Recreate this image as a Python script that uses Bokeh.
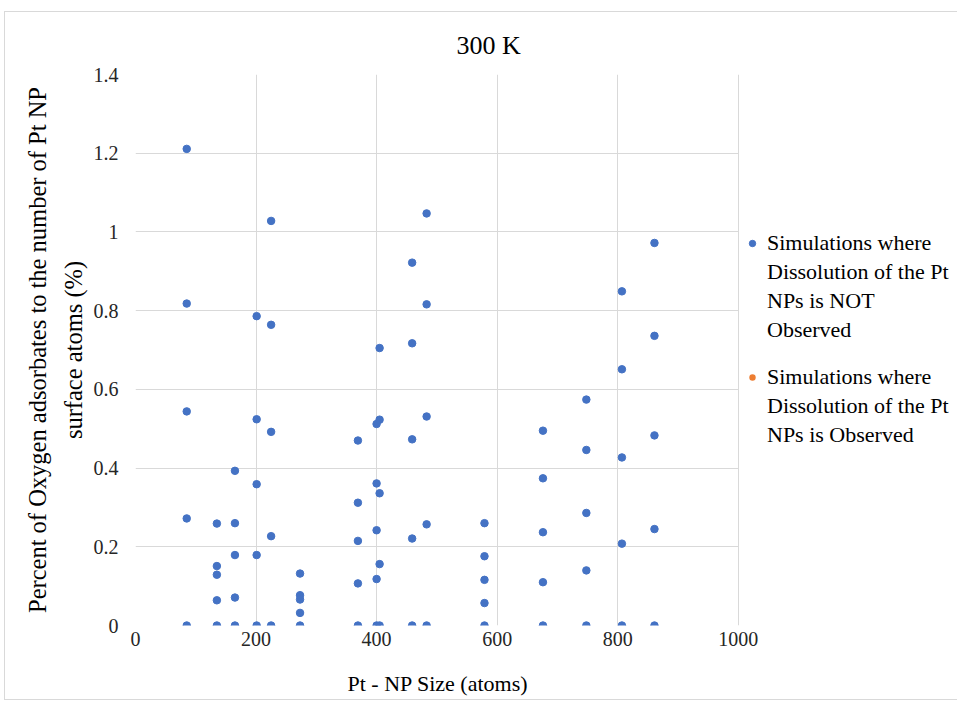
from bokeh.plotting import figure
from bokeh.models import (ColumnDataSource, Legend, LegendItem, FixedTicker, Range1d, Title,
                          CDSView, IndexFilter)
from bokeh.embed import file_html
from bokeh.resources import INLINE

# ---- data ----
sizes = [85, 135, 165, 201, 225, 273, 369, 400, 405, 459, 483, 579, 676, 748, 807, 861]
pct_not_observed = [
    [1.211, 0.818, 0.544, 0.272, 0.0],
    [0.259, 0.151, 0.129, 0.064, 0.0],
    [0.393, 0.260, 0.179, 0.071, 0.0],
    [0.786, 0.524, 0.359, 0.179, 0.0],
    [1.028, 0.764, 0.492, 0.227, 0.0],
    [0.132, 0.077, 0.066, 0.032, 0.0],
    [0.470, 0.312, 0.215, 0.107, 0.0],
    [0.512, 0.361, 0.242, 0.118, 0.0],
    [0.705, 0.523, 0.336, 0.156, 0.0],
    [0.922, 0.717, 0.473, 0.221, 0.0],
    [1.047, 0.816, 0.531, 0.257, 0.0],
    [0.260, 0.176, 0.116, 0.057, 0.0],
    [0.495, 0.374, 0.237, 0.110, 0.0],
    [0.574, 0.446, 0.286, 0.140, 0.0],
    [0.849, 0.651, 0.427, 0.208, 0.0],
    [0.972, 0.736, 0.483, 0.245, 0.0],
]
# no simulation at 300 K showed dissolution (series is empty)
x_ticks = [0, 200, 400, 600, 800, 1000]
y_ticks = [0, 0.2, 0.4, 0.6, 0.8, 1, 1.2, 1.4]
y_tick_labels = ["0", "0.2", "0.4", "0.6", "0.8", "1", "1.2", "1.4"]
legend_not_obs = ["Simulations where", "Dissolution of the Pt", "NPs is NOT", "Observed"]
legend_obs = ["Simulations where", "Dissolution of the Pt", "NPs is Observed"]

nx, ny = [], []
for s, vals in zip(sizes, pct_not_observed):
    for v in vals:
        nx.append(s)
        ny.append(v)

FONT = "Liberation Serif"
BLUE = "#4472C4"
ORANGE = "#ED7D31"
GRID = "#d9d9d9"
TXT = "#262626"

# outer chart box at (4, 11) on the page, 1px light border -> canvas origin (5, 12)
MX, MY = 4, 11
CX, CY = MX + 1, MY + 1
W, H = 957 - MX, 700 - MY
CW, CH = W - 1, H - 2
# frame extends to the right so the legend (drawn inside the frame area) is not clipped;
# grid and axis are bounded to the 0..1000 data window
X_MAX = 1000
FRAME_L, FRAME_R_AXIS, FRAME_R = 135 - CX, 737 - CX, 955 - CX
FRAME_T, FRAME_B = 74 - CY, 623 - CY
x_end = X_MAX * (FRAME_R - FRAME_L) / (FRAME_R_AXIS - FRAME_L)

p = figure(width=W, height=H, output_backend="svg", toolbar_location=None,
           x_range=Range1d(0, x_end), y_range=Range1d(0, 1.4),
           min_border_left=FRAME_L, min_border_right=CW - FRAME_R,
           min_border_top=FRAME_T, min_border_bottom=CH - FRAME_B,
           margin=(MY, 0, 0, MX),
           styles={"border-left": "1px solid #d9d9d9", "border-top": "1px solid #d9d9d9",
                   "border-bottom": "1px solid #d9d9d9"})
t = Title(text="300 K", align="left", text_font=FONT, text_font_size="26px",
          text_font_style="normal", text_color="#000000", offset=321, standoff=30)
p.add_layout(t, "above")
xt = Title(text="\nPt - NP Size (atoms)", align="left", vertical_align="top", text_font=FONT,
           text_font_size="22px", text_font_style="normal", text_color="#000000",
           text_line_height=0.88, offset=212, standoff=1)
p.add_layout(xt, "below")

s1 = ColumnDataSource(dict(x=nx, y=ny))
# legend proxy for the empty "dissolution observed" series: zero-size, hidden under a blue point
r2 = p.scatter("x", "y", source=s1, size=0, fill_color=ORANGE, line_alpha=0,
               view=CDSView(filter=IndexFilter(indices=[0])))
r1 = p.scatter("x", "y", source=s1, size=7.5, color=BLUE)
r_blank = p.scatter("x", "y", source=s1, size=0, fill_alpha=0, line_alpha=0,
                    view=CDSView(filter=IndexFilter(indices=[0])))

p.xaxis.ticker = FixedTicker(ticks=x_ticks)
p.yaxis.ticker = FixedTicker(ticks=y_ticks)
p.xaxis.bounds = (0, X_MAX)
p.yaxis.major_label_overrides = {t_: l for t_, l in zip(y_ticks, y_tick_labels)}
for ax in (p.xaxis[0], p.yaxis[0]):
    ax.axis_line_color = None
    ax.major_tick_line_color = None
    ax.minor_tick_line_color = None
    ax.major_label_text_font = FONT
    ax.major_label_text_font_size = "20px"
    ax.major_label_text_color = TXT
    ax.axis_label_text_font = FONT
    ax.axis_label_text_font_style = "normal"
    ax.axis_label_text_color = "#000000"
p.yaxis.major_label_standoff = 11
p.xaxis.major_label_standoff = 0
p.yaxis.axis_label = "Percent of Oxygen adsorbates to the number of Pt NP\nsurface atoms (%)"
p.yaxis.axis_label_text_font_size = "24.5px"
p.yaxis.axis_label_text_line_height = 1.3
p.yaxis.axis_label_standoff = 4

p.xgrid.grid_line_color = GRID
p.ygrid.grid_line_color = GRID
p.ygrid.cross_bounds = (0, X_MAX)
p.xgrid.bounds = (0, 1.4)
p.outline_line_color = None


# legends: one item per text line, continuation lines carry an invisible glyph
def make_legend(lines, renderer, loc):
    items = [LegendItem(label=lines[0], renderers=[renderer])]
    items += [LegendItem(label=l, renderers=[r_blank]) for l in lines[1:]]
    lg = Legend(items=items, location=loc)
    lg.label_text_font = FONT
    lg.label_text_font_size = "22px"
    lg.label_text_color = "#000000"
    lg.border_line_alpha = 0
    lg.background_fill_alpha = 0
    lg.glyph_width = 16
    lg.glyph_height = 20
    lg.label_height = 20
    lg.label_standoff = 7
    lg.spacing = 3
    lg.padding = 0
    lg.margin = 0
    return lg


p.add_layout(make_legend(legend_not_obs, r1, (609, 282)), "center")
p.add_layout(make_legend(legend_obs, r2, (609, 177)), "center")

open("out.html", "w").write(file_html(p, INLINE))
